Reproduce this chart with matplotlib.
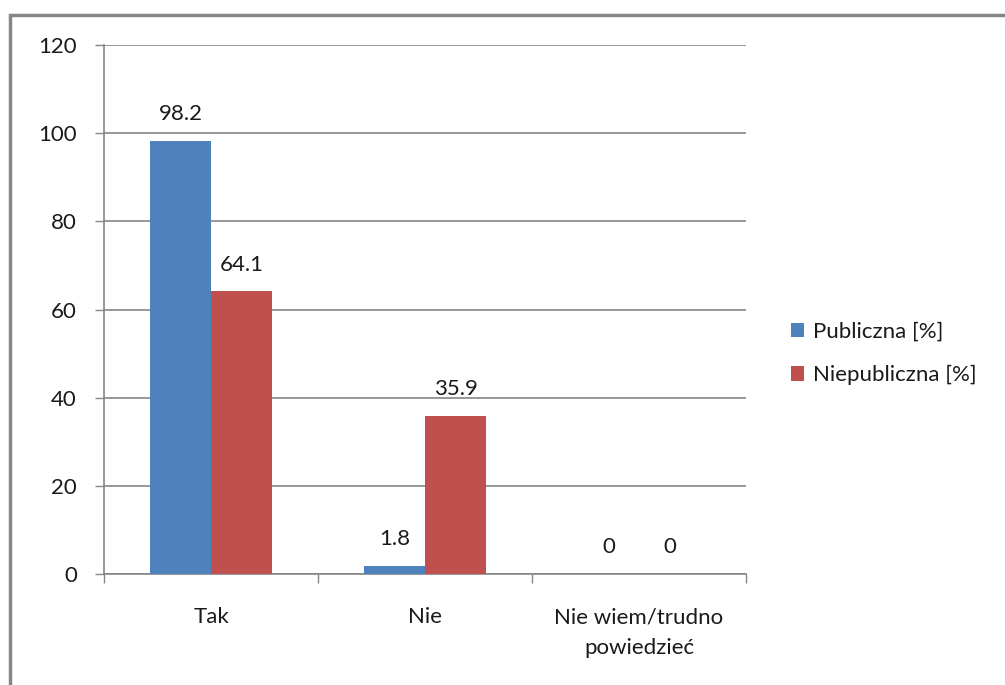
import matplotlib
matplotlib.use("Agg")
import matplotlib.pyplot as plt
from matplotlib.patches import Rectangle
import numpy as np

categories = ["Tak", "Nie", "Nie wiem/trudno\npowiedzieć"]
series_names = ["Publiczna [%]", "Niepubliczna [%]"]
publiczna = [98.2, 1.8, 0]
niepubliczna = [64.1, 35.9, 0]
value_labels_pub = ["98.2", "1.8", "0"]
value_labels_niepub = ["64.1", "35.9", "0"]
yticks = [0, 20, 40, 60, 80, 100, 120]

plt.rcParams['font.family'] = ['Lato', 'DejaVu Sans']

W, H = 1005, 685
fig = plt.figure(figsize=(W / 100, H / 100), dpi=100)

def fx(px):
    return px / W

def fy(py):
    return 1 - py / H

FS = 16
TC = "#1a1a1a"

# outer border (partially cropped)
border = Rectangle((fx(9.5), fy(H + 20)), fx(W + 20 - 9.5), fy(15) - fy(H + 20),
                   transform=fig.transFigure, fill=False, edgecolor="#868686",
                   linewidth=2.5, clip_on=False)
fig.patches.append(border)

ax = fig.add_axes([fx(104), fy(574), fx(746) - fx(104), fy(45) - fy(574)])

grid_c = "#868686"
blue = "#4F81BD"
red = "#C0504D"
bw = 1 / 3.5

x = np.arange(len(categories)) + 0.5
ax.bar(x - bw / 2, publiczna, width=bw, color=blue, label=series_names[0], zorder=3)
ax.bar(x + bw / 2, niepubliczna, width=bw, color=red, label=series_names[1], zorder=3)

for xi, v, lab in zip(x - bw / 2, publiczna, value_labels_pub):
    ax.annotate(lab, (xi, v), xytext=(0, 12), textcoords="offset points",
                ha="center", va="bottom", fontsize=FS, color=TC)
for xi, v, lab in zip(x + bw / 2, niepubliczna, value_labels_niepub):
    ax.annotate(lab, (xi, v), xytext=(0, 12), textcoords="offset points",
                ha="center", va="bottom", fontsize=FS, color=TC)

ax.set_xlim(0, 3)
ax.set_ylim(0, 120)
ax.set_yticks(yticks)
ax.set_yticklabels([str(t) for t in yticks], fontsize=FS, color=TC)
ax.yaxis.grid(True, color=grid_c, linewidth=1.2, zorder=0)
ax.tick_params(axis="y", length=6.5, width=1, color=grid_c, pad=13)

ax.set_xticks([0, 1, 2, 3])
ax.set_xticklabels([])
ax.set_xticks(x, minor=True)
ax.set_xticklabels(categories, minor=True, fontsize=FS, color=TC, linespacing=1.65)
ax.tick_params(axis="x", which="major", length=6.5, width=1, color=grid_c, direction="out")
ax.tick_params(axis="x", which="minor", length=0, pad=24)

for s in ["top", "right"]:
    ax.spines[s].set_visible(False)
for s in ["left", "bottom"]:
    ax.spines[s].set_color(grid_c)
    ax.spines[s].set_linewidth(1.2)
ax.set_axisbelow(True)

leg = fig.legend(loc="upper left", bbox_to_anchor=(fx(782), fy(313)),
                 frameon=False, fontsize=FS, handlelength=0.6, handleheight=0.6,
                 handletextpad=0.4, labelspacing=1.05, borderaxespad=0)
for t in leg.get_texts():
    t.set_color(TC)

fig.savefig("out.png", dpi=100)
